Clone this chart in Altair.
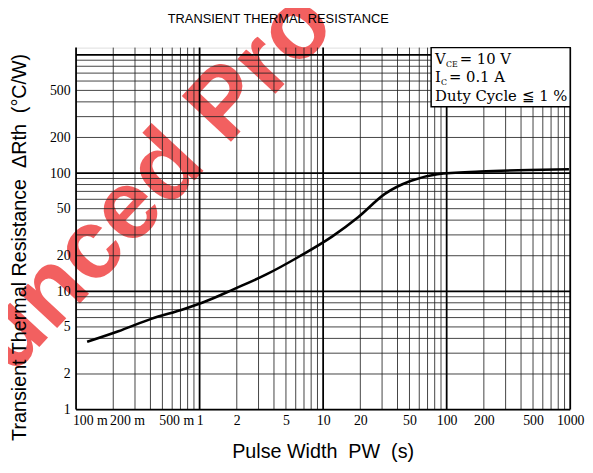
import altair as alt
import pandas as pd

# ---- data ----
pulse_width = [0.123, 0.22, 0.406, 0.751, 1.15, 1.88, 3.47, 6.41, 11.8, 19.3, 31.6, 51.5, 84.1, 187, 468, 977]
rth = [3.74, 4.59, 5.85, 7.09, 8.32, 10.4, 13.9, 19.7, 29.0, 42.5, 66.7, 86.1, 97.9, 103, 106.3, 107.9]

x_ticks = [0.1, 0.2, 0.5, 1, 2, 5, 10, 20, 50, 100, 200, 500, 1000]
y_ticks = [1, 2, 5, 10, 20, 50, 100, 200, 500]

decades_x = [0.1, 1, 10, 100]
decades_y = [1, 10, 100]
multipliers = [2, 3, 4, 5, 6, 7, 8, 9]

x_major = [0.1, 1, 10, 100, 1000]
y_major = [1, 10, 100, 1000]
x_minor = [d * m for d in decades_x for m in multipliers]
y_minor = [d * m for d in decades_y for m in multipliers]

NB = "\u00a0"
title_text = "TRANSIENT THERMAL RESISTANCE"
x_title = f"Pulse Width {NB}PW {NB}(s)"
y_title = f"Transient Thermal Resistance {NB}ΔRth {NB}(°C/W)"
watermark = "unced Pro"

W, H = 501, 367
xs = alt.Scale(type="log", domain=[0.1, 1000], nice=False)
ys = alt.Scale(type="log", domain=[1, 1150], nice=False)

x_axis = alt.Axis(
    values=x_ticks,
    labelExpr="datum.value < 1 ? format(datum.value*1000, 'd') + ' m' : format(datum.value, 'd')",
    labelOffset={"condition": {"test": "datum.value < 1", "value": 14}, "value": 0},
    title=x_title, titleX=250, titleY=43, titleBaseline="middle", titleAlign="center",
    titleFont="Liberation Sans", titleFontSize=20, titleFontWeight="normal", titleColor="black",
    labelFont="Liberation Serif", labelFontSize=14, labelColor="black", labelPadding=4,
    ticks=False, domain=False, grid=False, zindex=1, labelFlush=False, labelOverlap=False,
)
y_axis = alt.Axis(
    values=y_ticks, format="d",
    title=y_title, titleX=-57, titleY=202, titleAngle=270, titleBaseline="middle", titleAlign="center",
    titleFont="Liberation Sans", titleFontSize=20, titleFontWeight="normal", titleColor="black",
    labelFont="Liberation Serif", labelFontSize=14, labelColor="black", labelPadding=6,
    ticks=False, domain=False, grid=False, zindex=1, labelFlush=False, labelOverlap=False,
)

curve_df = pd.DataFrame({"pw": pulse_width, "r": rth})

wm = alt.Chart(pd.DataFrame({"t": [watermark]})).mark_text(
    angle=313, font="Liberation Sans", fontWeight="bold", fontSize=99,
    color="#ee2c2c", opacity=0.75, align="center", baseline="middle"
).encode(x=alt.value(78), y=alt.value(136), text="t:N")

vminor = alt.Chart(pd.DataFrame({"v": x_minor})).mark_rule(
    color="#222", strokeWidth=1, opacity=0.85
).encode(x=alt.X("v:Q", scale=xs, axis=x_axis))
vmajor = alt.Chart(pd.DataFrame({"v": x_major})).mark_rule(
    color="#000", strokeWidth=1.8
).encode(x=alt.X("v:Q", scale=xs, axis=x_axis))
hminor = alt.Chart(pd.DataFrame({"v": y_minor})).mark_rule(
    color="#222", strokeWidth=1, opacity=0.85
).encode(y=alt.Y("v:Q", scale=ys, axis=y_axis))
hmajor = alt.Chart(pd.DataFrame({"v": y_major})).mark_rule(
    color="#000", strokeWidth=1.8
).encode(y=alt.Y("v:Q", scale=ys, axis=y_axis))

one = pd.DataFrame({"a": [0]})
box = alt.Chart(one).mark_rect(fill="white", stroke="black", strokeWidth=1.5).encode(
    x=alt.value(360), x2=alt.value(W), y=alt.value(0), y2=alt.value(60)
)

def txt(s, x, y, size=15, font="DejaVu Serif", align="left", baseline="alphabetic"):
    return alt.Chart(pd.DataFrame({"t": [s]})).mark_text(
        font=font, fontSize=size, color="black", align=align, baseline=baseline
    ).encode(x=alt.value(x), y=alt.value(y), text="t:N")

legend_layers = [
    txt("V", 364, 17), txt("CE", 375, 20, 8), txt("= 10 V", 389, 17),
    txt("I", 364, 35), txt("C", 370, 38, 8), txt("= 0.1 A", 378, 35),
    txt("Duty Cycle ≦ 1 %", 364, 54),
]

title_mark = txt(title_text, 205, -29, 13, "Liberation Sans", "center", "middle")

curve = alt.Chart(curve_df).mark_line(
    color="black", strokeWidth=2.6, interpolate="monotone"
).encode(
    x=alt.X("pw:Q", scale=xs, axis=x_axis),
    y=alt.Y("r:Q", scale=ys, axis=y_axis),
)

chart = alt.layer(wm, vminor, hminor, vmajor, hmajor, box, *legend_layers, title_mark, curve).properties(
    width=W, height=H,
    autosize=alt.AutoSizeParams(type="none"),
    padding={"left": 69, "top": 37, "right": 15, "bottom": 53},
).configure_view(stroke="black", strokeWidth=1.5).configure(background="white")

chart.save("out.html", embed_options={"renderer": "svg", "actions": False})
